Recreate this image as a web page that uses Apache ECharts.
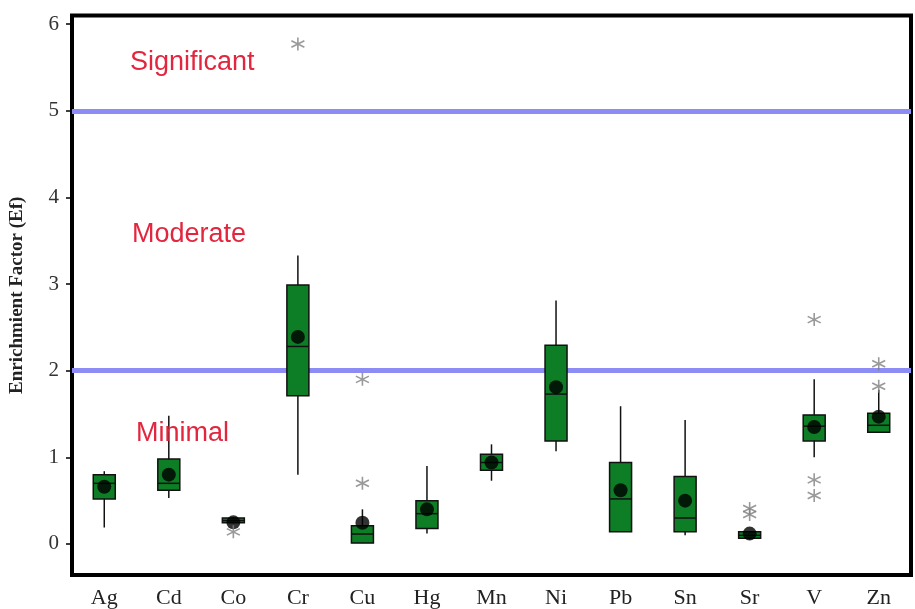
<!DOCTYPE html>
<html>
<head>
<meta charset="utf-8">
<title>Enrichment Factor</title>
<script src="https://cdn.jsdelivr.net/npm/echarts@6/dist/echarts.min.js"></script>
<style>
    html, body { margin: 0; padding: 0; background: #fff; }
    #ef-boxplot { width: 915px; height: 609px; }
</style>
</head>
<body>
<div id="ef-boxplot"></div>
<script>
    // elements on the x axis
    var categories = ['Ag', 'Cd', 'Co', 'Cr', 'Cu', 'Hg', 'Mn', 'Ni', 'Pb', 'Sn', 'Sr', 'V', 'Zn'];
    // box statistics
    var whiskerLow  = [0.19, 0.53, 0.24, 0.80, 0.01, 0.12, 0.73, 1.07, 0.14, 0.10, 0.05, 1.00, 1.29];
    var q1          = [0.52, 0.62, 0.245, 1.71, 0.01, 0.18, 0.85, 1.19, 0.14, 0.14, 0.065, 1.19, 1.29];
    var median      = [0.70, 0.70, 0.27, 2.28, 0.115, 0.35, 0.94, 1.73, 0.52, 0.30, 0.10, 1.36, 1.37];
    var q3          = [0.80, 0.98, 0.30, 2.99, 0.21, 0.50, 1.035, 2.295, 0.94, 0.78, 0.14, 1.49, 1.51];
    var whiskerHigh = [0.84, 1.48, 0.31, 3.33, 0.40, 0.90, 1.15, 2.81, 1.59, 1.43, 0.15, 1.90, 1.78];
    var means       = [0.66, 0.80, 0.25, 2.39, 0.245, 0.40, 0.94, 1.81, 0.62, 0.50, 0.12, 1.35, 1.47];
    // outliers: [element, value]
    var outliers = [
        ['Co', 0.14], ['Cr', 5.77], ['Cu', 0.70], ['Cu', 1.90],
        ['Sr', 0.41], ['Sr', 0.34], ['V', 2.59], ['V', 0.74], ['V', 0.56],
        ['Zn', 1.82], ['Zn', 2.08]
    ];
    // class limits and y tick labels
    var thresholds = [2, 5];
    var yTicks = [0, 1, 2, 3, 4, 5, 6];

    // [index, low, q1, median, q3, high] for the custom box series
    var boxData = categories.map(function (c, i) {
        return [i, whiskerLow[i], q1[i], median[i], q3[i], whiskerHigh[i]];
    });
    var meanData = categories.map(function (c, i) {
        return [c, means[i]];
    });

    var serif = 'Liberation Serif, Times New Roman, serif';
    var sans = 'Liberation Sans, Arial, sans-serif';
    var asterisk = 'path://M0,-6L0,6M-5.2,-3L5.2,3M-5.2,3L5.2,-3';

    // box without whisker caps, as in the original figure
    function renderBox(params, api) {
        var i = api.value(0);
        var low = api.coord([i, api.value(1)]);
        var lo = api.coord([i, api.value(2)]);
        var med = api.coord([i, api.value(3)]);
        var hi = api.coord([i, api.value(4)]);
        var high = api.coord([i, api.value(5)]);
        var half = 11;
        var stroke = { stroke: '#111', lineWidth: 1.5 };
        return {
            type: 'group',
            children: [
                {
                    type: 'line',
                    shape: { x1: low[0], y1: low[1], x2: high[0], y2: high[1] },
                    style: stroke
                },
                {
                    type: 'rect',
                    shape: { x: lo[0] - half, y: hi[1], width: half * 2, height: lo[1] - hi[1] },
                    style: { fill: '#0d7e26', stroke: '#111', lineWidth: 1.5 }
                },
                {
                    type: 'line',
                    shape: { x1: med[0] - half, y1: med[1], x2: med[0] + half, y2: med[1] },
                    style: stroke
                }
            ]
        };
    }

    var chart = echarts.init(document.getElementById('ef-boxplot'));
    var option = {
        animation: false,
        grid: {
            left: 70,
            right: 4,
            top: 15.5,
            bottom: 34,
            show: true,
            borderColor: '#000',
            borderWidth: 4,
            backgroundColor: '#fff'
        },
        xAxis: {
            type: 'category',
            data: categories,
            boundaryGap: true,
            axisLine: { show: false },
            axisTick: {
                alignWithLabel: true,
                length: 5,
                lineStyle: { color: '#000', width: 1.5 }
            },
            axisLabel: {
                color: '#222',
                fontFamily: serif,
                fontSize: 22,
                margin: 12
            },
            splitLine: { show: false }
        },
        yAxis: {
            type: 'value',
            min: -0.358,
            max: 6.10,
            name: 'Enrichmient Factor (Ef)',
            nameLocation: 'middle',
            nameGap: 45,
            nameTextStyle: {
                color: '#222',
                fontFamily: serif,
                fontWeight: 'bold',
                fontSize: 19
            },
            axisLine: { show: false },
            axisTick: {
                show: true,
                length: 6,
                customValues: yTicks,
                lineStyle: { color: '#000', width: 1.5 }
            },
            axisLabel: {
                color: '#333',
                fontFamily: serif,
                fontSize: 21,
                margin: 13,
                customValues: yTicks
            },
            splitLine: { show: false }
        },
        graphic: [
            { type: 'text', left: 130, top: 49, z: 100, style: { text: 'Significant', fill: '#e2263e', font: '27px ' + sans } },
            { type: 'text', left: 132, top: 221, z: 100, style: { text: 'Moderate', fill: '#e2263e', font: '27px ' + sans } },
            { type: 'text', left: 136, top: 420, z: 100, style: { text: 'Minimal', fill: '#e2263e', font: '27px ' + sans } }
        ],
        series: [
            {
                // class limit lines
                type: 'line',
                data: [],
                z: 1,
                markLine: {
                    silent: true,
                    symbol: ['none', 'none'],
                    label: { show: false },
                    lineStyle: { color: '#8c8cf4', width: 5, type: 'solid' },
                    data: thresholds.map(function (t) { return { yAxis: t }; })
                }
            },
            {
                type: 'custom',
                renderItem: renderBox,
                data: boxData,
                z: 5,
                encode: { x: 0, y: [1, 2, 3, 4, 5] }
            },
            {
                name: 'mean',
                type: 'scatter',
                data: meanData,
                z: 6,
                symbol: 'circle',
                symbolSize: 14,
                itemStyle: { color: '#000' }
            },
            {
                name: 'outlier',
                type: 'scatter',
                data: outliers,
                z: 6,
                symbol: asterisk,
                symbolSize: 13,
                itemStyle: { color: '#808080', borderColor: '#808080', borderWidth: 1.6 }
            }
        ]
    };
    chart.setOption(option);
    window.addEventListener('resize', function () {
        chart.resize();
    });
</script>
</body>
</html>
